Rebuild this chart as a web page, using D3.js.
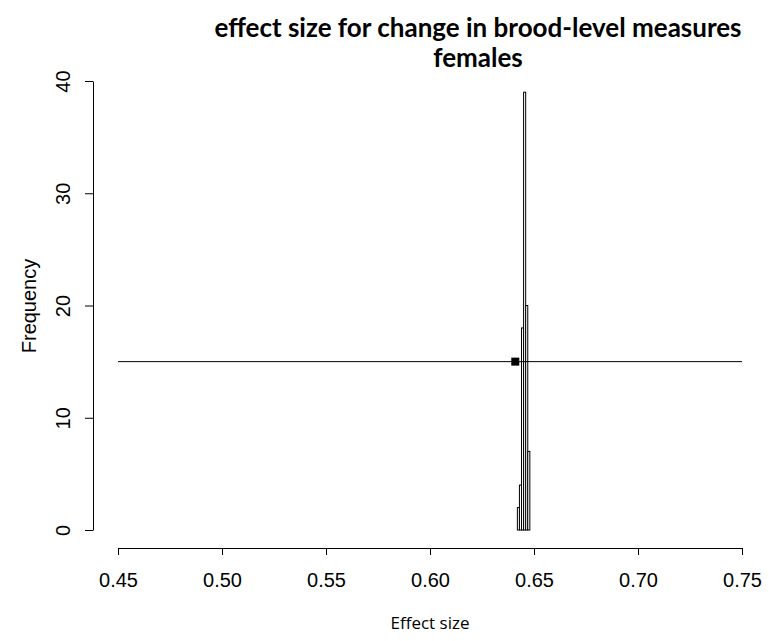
<!DOCTYPE html>
<html><head><meta charset="utf-8">
<script src="https://cdn.jsdelivr.net/npm/d3@7"></script>
<style>body{margin:0;background:#fff}svg{display:block}</style>
</head><body><svg id="c" width="769" height="641"></svg>
<script>
const binStarts = [0.642, 0.643, 0.644, 0.645, 0.646, 0.647];
const binCounts = [2, 4, 18, 39, 20, 7];
const binWidth = 0.001;
const xTicks = [0.45, 0.50, 0.55, 0.60, 0.65, 0.70, 0.75];
const yTicks = [0, 10, 20, 30, 40];
const estimate = [0.641];
const estimateY = [15];
const ciRange = [0.45, 0.75];
const titleLines = ["effect size for change in brood-level measures", "females"];

const svg = d3.select("#c");
const x = d3.scaleLinear().domain([0.45, 0.75]).range([118, 742]);
const y = d3.scaleLinear().domain([0, 40]).range([530, 81]);
const tickFont = "Liberation Sans, Arial, sans-serif";

// bars
svg.append("g").selectAll("rect").data(binStarts).join("rect")
  .attr("x", (d) => x(d)).attr("width", x(d3.min(binStarts) + binWidth) - x(d3.min(binStarts)))
  .attr("y", (d, i) => y(binCounts[i])).attr("height", (d, i) => y(0) - y(binCounts[i]))
  .attr("fill", "#fff").attr("stroke", "#000").attr("stroke-width", 1);

// CI line and estimate
svg.append("line").attr("x1", x(ciRange[0])).attr("x2", x(ciRange[1]))
  .attr("y1", y(estimateY[0])).attr("y2", y(estimateY[0])).attr("stroke", "#000").attr("stroke-width", 1);
svg.selectAll("rect.pt").data(estimate).join("rect").attr("class", "pt")
  .attr("x", (d) => x(d) - 4).attr("y", y(estimateY[0]) - 4).attr("width", 8).attr("height", 8).attr("fill", "#000");

// x axis
const xa = svg.append("g").attr("transform", "translate(0,548)")
  .call(d3.axisBottom(x).tickValues(xTicks).tickFormat(d3.format(".2f")).tickSize(7).tickSizeOuter(0));
xa.select(".domain").attr("stroke", "#000");
xa.selectAll(".tick text").attr("font-family", tickFont).attr("font-size", 20).attr("fill", "#000")
  .attr("y", 39).attr("dy", 0);

// y axis
const ya = svg.append("g").attr("transform", "translate(93,0)")
  .call(d3.axisLeft(y).tickValues(yTicks).tickSize(8).tickSizeOuter(0));
ya.selectAll(".tick text").attr("font-family", tickFont).attr("font-size", 20).attr("fill", "#000")
  .attr("transform", "rotate(-90)").attr("text-anchor", "middle")
  .attr("x", 0).attr("y", -23).attr("dy", 0);

// axis labels
svg.append("text").attr("x", 430).attr("y", 629).attr("text-anchor", "middle")
  .attr("font-family", "Open Sans, sans-serif").attr("font-size", 17).text("Effect size");
svg.append("text").attr("transform", "translate(36,306) rotate(-90)").attr("text-anchor", "middle")
  .attr("font-family", tickFont).attr("font-size", 20).text("Frequency");

// title
svg.append("g").selectAll("text").data(titleLines).join("text")
  .attr("x", 478).attr("y", (d, i) => 37 + i * 30).attr("text-anchor", "middle")
  .attr("font-family", "Lato, sans-serif").attr("font-weight", "bold").attr("font-size", 26).text((d) => d);
</script></body></html>
